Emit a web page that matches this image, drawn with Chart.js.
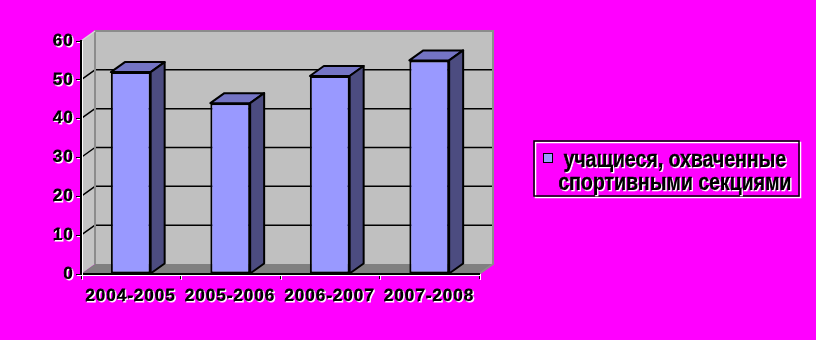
<!DOCTYPE html>
<html>
<head>
<meta charset="utf-8">
<script src="https://cdn.jsdelivr.net/npm/chart.js@4.4.0/dist/chart.umd.min.js"></script>
<style>
  html, body { margin: 0; padding: 0; background: #ff00ff; }
  canvas { display: block; }
</style>
</head>
<body>
<canvas id="chart" width="816" height="340"></canvas>
<script>
/* global Chart */

const seasons = ['2004-2005', '2005-2006', '2006-2007', '2007-2008'];
const students = [52, 44, 51, 55];
const yTicks = [0, 10, 20, 30, 40, 50, 60];
const legendLines = ['учащиеся, охваченные', 'спортивными секциями'];

/* depth of the fake 3D box */
const DX = 14;
const DY = -10;

const FONT = '"Liberation Sans", Arial, sans-serif';

function poly(ctx, pts) {
  ctx.beginPath();
  ctx.moveTo(pts[0][0], pts[0][1]);
  for (let i = 1; i < pts.length; i++) ctx.lineTo(pts[i][0], pts[i][1]);
  ctx.closePath();
}

/* walls, floor and back gridlines; also turns on the white text shadow for the axes */
const box3d = {
  id: 'box3d',
  beforeDraw(chart) {
    const { ctx, chartArea: a } = chart;
    const y = chart.scales.y;
    ctx.save();
    ctx.fillStyle = '#ff00ff';
    ctx.fillRect(0, 0, chart.width, chart.height);

    // side wall
    poly(ctx, [[a.left, a.top], [a.left + DX, a.top + DY], [a.left + DX, a.bottom + DY], [a.left, a.bottom]]);
    ctx.fillStyle = '#c4c4c4';
    ctx.fill();
    // back wall
    ctx.fillStyle = '#c0c0c0';
    ctx.fillRect(a.left + DX, a.top + DY, a.right - a.left, a.bottom - a.top);
    // floor
    poly(ctx, [[a.left, a.bottom], [a.right, a.bottom], [a.right + DX, a.bottom + DY], [a.left + DX, a.bottom + DY]]);
    ctx.fillStyle = '#808080';
    ctx.fill();

    // gridlines on back wall + diagonals on side wall
    ctx.strokeStyle = '#000';
    ctx.lineWidth = 1.5;
    yTicks.filter(v => v > y.min && v < y.max).forEach(v => {
      const py = y.getPixelForValue(v);
      ctx.beginPath();
      ctx.moveTo(a.left + DX, py + DY);
      ctx.lineTo(a.right + DX, py + DY);
      ctx.moveTo(a.left, py);
      ctx.lineTo(a.left + DX, py + DY);
      ctx.stroke();
    });

    // wall edges
    ctx.strokeStyle = '#8c8c8c';
    ctx.lineWidth = 2;
    ctx.beginPath();
    ctx.moveTo(a.left + DX, a.bottom + DY);
    ctx.lineTo(a.left + DX, a.top + DY);
    ctx.lineTo(a.right + DX, a.top + DY);
    ctx.lineTo(a.right + DX, a.bottom + DY);
    ctx.lineTo(a.right, a.bottom);
    ctx.stroke();
    ctx.strokeStyle = '#d8d8d8';
    ctx.lineWidth = 1.5;
    ctx.beginPath();
    ctx.moveTo(a.left, a.top);
    ctx.lineTo(a.left + DX, a.top + DY);
    ctx.stroke();
    ctx.restore();

    /* axis text: white drop shadow, slight letter spacing (restored before datasets) */
    ctx.save();
    ctx.shadowColor = '#ffffff';
    ctx.shadowOffsetX = 1;
    ctx.shadowOffsetY = 1;
    ctx.shadowBlur = 0;
    ctx.letterSpacing = '1px';
  },
  beforeDatasetsDraw(chart) {
    chart.ctx.restore();
  },
  afterDatasetsDraw(chart) {
    const ctx = chart.ctx;
    const meta = chart.getDatasetMeta(0);
    ctx.save();
    ctx.strokeStyle = '#000';
    ctx.lineWidth = 2;
    ctx.lineJoin = 'round';
    meta.data.forEach(bar => {
      const { x, y, width, base } = bar.getProps(['x', 'y', 'width', 'base'], true);
      const l = x - width / 2;
      const r = x + width / 2;
      // top face
      poly(ctx, [[l, y], [r, y], [r + DX, y + DY], [l + DX, y + DY]]);
      ctx.fillStyle = '#7474c4';
      ctx.fill();
      ctx.stroke();
      // right side face
      poly(ctx, [[r, y], [r + DX, y + DY], [r + DX, base + DY], [r, base]]);
      ctx.fillStyle = '#4c4c80';
      ctx.fill();
      ctx.stroke();
    });
    ctx.restore();
  },
};

/* boxed legend at right, two centred lines */
const sideLegend = {
  id: 'sideLegend',
  afterDraw(chart) {
    const ctx = chart.ctx;
    const bx = 534, by = 141, bw = 265, bh = 55;
    ctx.save();
    ctx.strokeStyle = '#ffffff';
    ctx.lineWidth = 1.5;
    ctx.strokeRect(bx + 1.5, by + 1.5, bw, bh);
    ctx.strokeStyle = '#000';
    ctx.strokeRect(bx, by, bw, bh);

    ctx.fillStyle = chart.data.datasets[0].backgroundColor;
    ctx.fillRect(543, 153, 10, 10);
    ctx.lineWidth = 1;
    ctx.strokeRect(543.5, 153.5, 9, 9);

    ctx.shadowColor = '#ffffff';
    ctx.shadowOffsetX = 1;
    ctx.shadowOffsetY = 1;
    ctx.fillStyle = '#000';
    ctx.strokeStyle = '#000';
    ctx.lineWidth = 0.6;
    ctx.font = 'bold 19.5px ' + FONT;
    ctx.textAlign = 'center';
    ctx.textBaseline = 'alphabetic';
    const baselines = [166.5, 189.5];
    legendLines.forEach((line, i) => {
      ctx.save();
      ctx.translate(675, baselines[i]);
      ctx.scale(1, 1.2);
      ctx.strokeText(line, 0, 0);
      ctx.fillText(line, 0, 0);
      ctx.restore();
    });
    ctx.restore();
  },
};

const tickFont = { family: FONT, size: 17, weight: 'bold' };

new Chart(document.getElementById('chart'), {
  type: 'bar',
  data: {
    labels: seasons,
    datasets: [{
      label: legendLines.join(' '),
      data: students,
      backgroundColor: '#9999ff',
      borderColor: '#000000',
      borderWidth: 2,
      borderSkipped: false,
      categoryPercentage: 1,
      barPercentage: 0.4,
    }],
  },
  options: {
    responsive: false,
    animation: false,
    layout: { padding: { left: 0, top: 41, right: 337, bottom: 26 } },
    plugins: {
      legend: { display: false },
      tooltip: { enabled: false },
    },
    scales: {
      x: {
        grid: { display: true, drawOnChartArea: false, tickLength: 5, color: '#000', lineWidth: 1, offset: true },
        border: { color: '#000', width: 2 },
        ticks: {
          color: '#000', font: tickFont, padding: 7, maxRotation: 0, autoSkip: false,
          textStrokeColor: '#000', textStrokeWidth: 0.8,
        },
        afterFit(s) { s.height = 40; },
      },
      y: {
        min: 0,
        max: 60,
        grid: { display: true, drawOnChartArea: false, tickLength: 5, color: '#000', lineWidth: 1 },
        border: { color: '#000', width: 2 },
        ticks: { color: '#000', font: tickFont, padding: 2, textStrokeColor: '#000', textStrokeWidth: 0.8 },
        afterBuildTicks(s) { s.ticks = yTicks.map(v => ({ value: v })); },
        afterFit(s) { s.width = 81; },
      },
    },
  },
  plugins: [box3d, sideLegend],
});
</script>
</body>
</html>
